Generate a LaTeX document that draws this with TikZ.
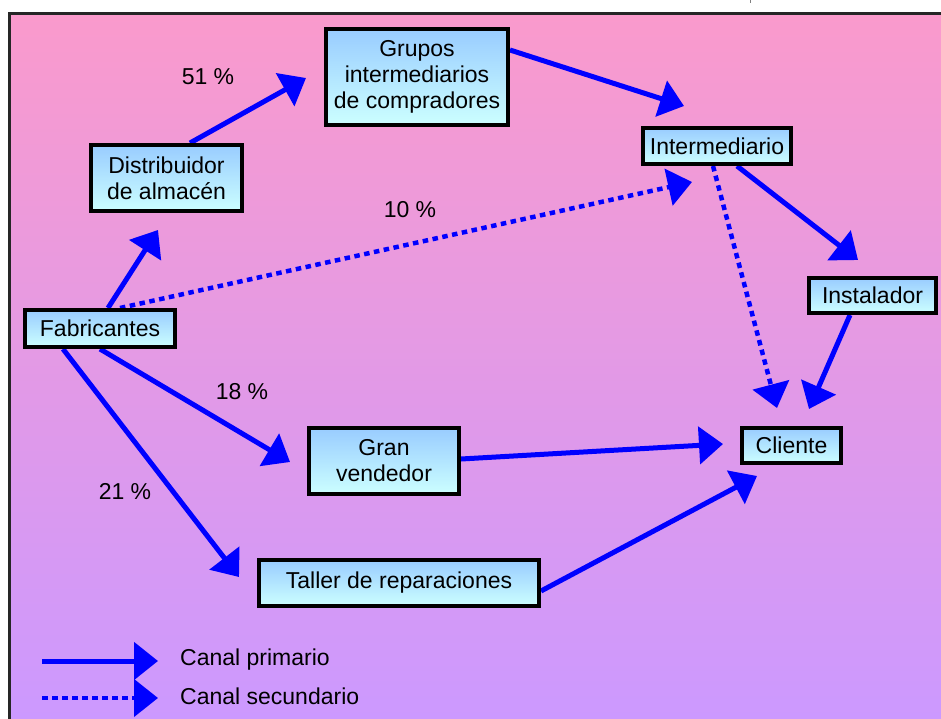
\documentclass[tikz,border=0pt]{standalone}
\usepackage{fontspec}
\setmainfont{Liberation Sans}
\usetikzlibrary{arrows.meta,calc}

\definecolor{bgtop}{RGB}{250,154,204}
\definecolor{bgbot}{RGB}{204,153,255}
\definecolor{boxtop}{RGB}{153,204,255}
\definecolor{boxbot}{RGB}{204,255,255}
\definecolor{chan}{RGB}{0,0,255}

\pgfdeclarelayer{back}
\pgfdeclarelayer{lines}
\pgfsetlayers{back,lines,main}

\begin{document}
\begin{tikzpicture}[x=1pt,y=-1pt,
  font=\fontsize{23}{26}\selectfont,
  box/.style={draw=black,line width=4pt,top color=boxtop,bottom color=boxbot,
    align=center,inner sep=0pt},
  tip/.style={-{Triangle[length=24pt,width=37pt]}},
  prim/.style={draw=chan,line width=5pt,tip},
  secd/.style={draw=chan,line width=4.5pt,dash pattern=on 5.5pt off 4.5pt,tip},
  pct/.style={inner sep=0pt}]

\useasboundingbox (0,0) rectangle (941,719);

% channel members
\node[box,minimum width=150pt,minimum height=37pt] (fab)    at (100,328.5) {Fabricantes};
\node[box,minimum width=151pt,minimum height=66pt] (dist)   at (166.5,178) {Distribuidor\\de almacén};
\node[box,minimum width=182pt,minimum height=96pt] (grp)    at (417,77)    {Grupos\\intermediarios\\de compradores};
\node[box,minimum width=148pt,minimum height=36pt] (inter)  at (717,146)   {Intermediario};
\node[box,minimum width=127pt,minimum height=35pt] (inst)   at (872.5,295.5) {Instalador};
\node[box,minimum width=99pt,minimum height=35pt]  (cli)    at (791.5,445.5) {Cliente};
\node[box,minimum width=150pt,minimum height=66pt] (gran)   at (384,461)   {Gran\\vendedor};
\node[box,minimum width=280pt,minimum height=46pt] (taller) at (399,583)   {Taller de reparaciones};

% shares
\node[pct] (p51) at (208,77)  {51 \%};
\node[pct] (p10) at (410,210) {10 \%};
\node[pct] (p18) at (242,392) {18 \%};
\node[pct] (p21) at (125,492) {21 \%};

% legend
\coordinate (lp0) at (42,661);
\coordinate (lp1) at (158,661);
\coordinate (ls0) at (42,698);
\coordinate (ls1) at (158,698);
\node[pct,anchor=west] (lpt) at (180,660) {Canal primario};
\node[pct,anchor=west] (lst) at (180,696) {Canal secundario};

\begin{pgfonlayer}{back}
  \fill[top color=bgtop,bottom color=bgbot] (9.5,13.5) rectangle (941,719);
  \draw[line width=3pt,black!85] (9.5,719) -- (9.5,13.5) -- (941,13.5);
  \draw[gray,line width=0.8pt] (750,0) -- (750,3);
\end{pgfonlayer}

\begin{pgfonlayer}{lines}
  % primary channels
  \draw[prim] ($(fab.north)+(8,0)$)      -- ($(dist.south)+(-8.5,17)$);
  \draw[prim] ($(dist.north)+(23.5,0)$)  -- ($(grp.west)+(-18,1)$);
  \draw[prim] ($(grp.east)+(0,-27)$)     -- ($(inter.north)+(-33,-20)$);
  \draw[prim] ($(inter.south)+(20,0)$)   -- ($(inst.north)+(-14.5,-16)$);
  \draw[prim] ($(inst.south)+(-22.5,0)$) -- ($(cli.north)+(17.5,-17)$);
  \draw[prim] (fab.south)                -- ($(gran.west)+(-17,1)$);
  \draw[prim] ($(fab.south)+(-37,0)$)    -- ($(taller.west)+(-18,-6)$);
  \draw[prim] ($(gran.east)+(0,-2)$)     -- ($(cli.west)+(-17,-1.5)$);
  \draw[prim] ($(taller.east)+(0,8)$)    -- ($(cli.south)+(-34.5,11)$);
  % secondary channels
  \draw[secd] ($(fab.north)+(20,0)$)     -- ($(inter.south)+(-25,16)$);
  \draw[secd] ($(inter.south)+(-4,0)$)   -- ($(cli.north)+(-14.5,-18)$);
  % legend lines
  \draw[prim] (lp0) -- (lp1);
  \draw[secd] (ls0) -- (ls1);
\end{pgfonlayer}

\end{tikzpicture}
\end{document}
